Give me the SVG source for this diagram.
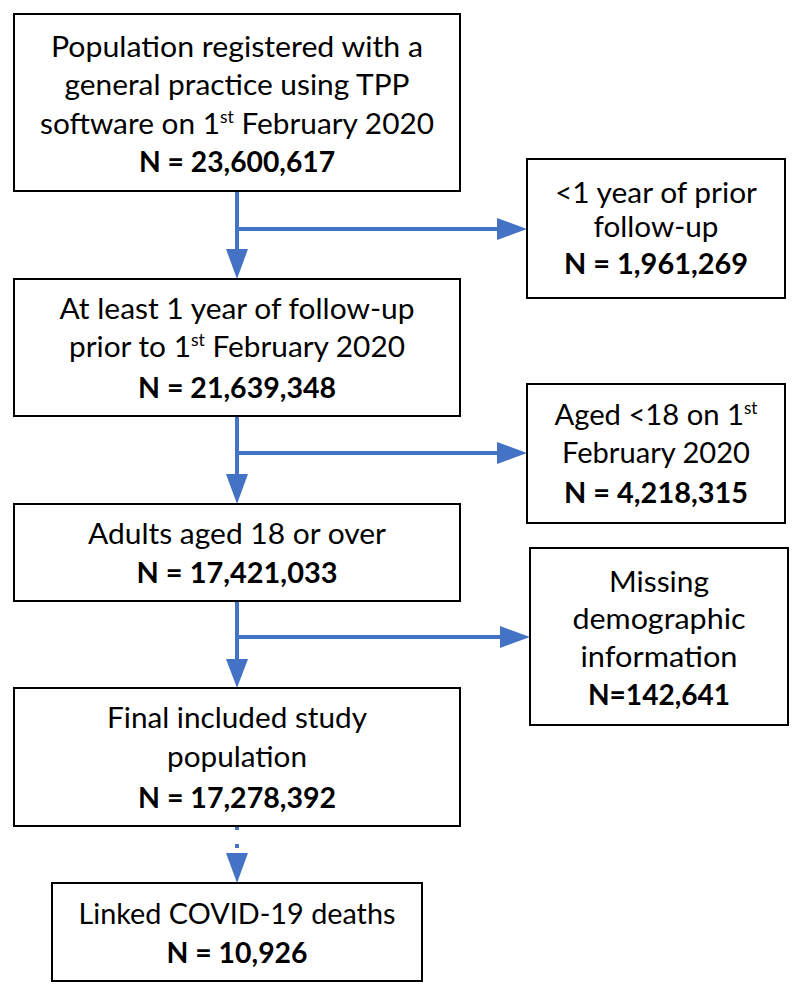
<svg xmlns="http://www.w3.org/2000/svg" width="800" height="996" viewBox="0 0 800 996">
<style>
.box{fill:#fff;stroke:#000;stroke-width:2}
text{font-family:Lato,"Open Sans","Liberation Sans",sans-serif;font-size:29px;fill:#000;text-anchor:middle}
.b{font-weight:bold}
.sup{font-size:17px}
.ln{stroke:#4472C4;stroke-width:4;fill:none}
.hd{fill:#4472C4}
</style>
<rect width="800" height="996" fill="#fff"/>
<g id="connectors">
<line class="ln" x1="237" y1="191" x2="237" y2="250"/>
<polygon class="hd" points="226,249 248,249 237,279"/>
<line class="ln" x1="237" y1="229" x2="498" y2="229"/>
<polygon class="hd" points="497,218 497,240 527,229"/>
<line class="ln" x1="237" y1="416" x2="237" y2="475"/>
<polygon class="hd" points="226,474 248,474 237,504"/>
<line class="ln" x1="237" y1="453" x2="498" y2="453"/>
<polygon class="hd" points="497,442 497,464 527,453"/>
<line class="ln" x1="237" y1="601" x2="237" y2="660"/>
<polygon class="hd" points="226,659 248,659 237,688"/>
<line class="ln" x1="237" y1="637" x2="501" y2="637"/>
<polygon class="hd" points="500,626 500,648 530,637"/>
<line class="ln" x1="237" y1="826" x2="237" y2="853" stroke-dasharray="4 14"/>
<polygon class="hd" points="226,853 248,853 237,883"/>
</g>
<g id="n1">
<rect class="box" x="14" y="14" width="446" height="177"/>
<text x="237" y="57" textLength="372" lengthAdjust="spacingAndGlyphs">Population registered with a</text>
<text x="237" y="95" textLength="345" lengthAdjust="spacingAndGlyphs">general practice using TPP</text>
<text x="237" y="134" textLength="394" lengthAdjust="spacingAndGlyphs">software on 1<tspan class="sup" dy="-11">st</tspan><tspan dy="11"> February 2020</tspan></text>
<text class="b" x="237" y="172" textLength="196" lengthAdjust="spacingAndGlyphs">N = 23,600,617</text>
</g>
<g id="n2">
<rect class="box" x="527" y="159" width="258" height="139"/>
<text x="656" y="203" textLength="202" lengthAdjust="spacingAndGlyphs">&lt;1 year of prior</text>
<text x="656" y="237" textLength="125" lengthAdjust="spacingAndGlyphs">follow-up</text>
<text class="b" x="656" y="274" textLength="184" lengthAdjust="spacingAndGlyphs">N = 1,961,269</text>
</g>
<g id="n3">
<rect class="box" x="14" y="279" width="446" height="137"/>
<text x="237" y="319" textLength="355" lengthAdjust="spacingAndGlyphs">At least 1 year of follow-up</text>
<text x="237" y="357" textLength="336" lengthAdjust="spacingAndGlyphs">prior to 1<tspan class="sup" dy="-11">st</tspan><tspan dy="11"> February 2020</tspan></text>
<text class="b" x="237" y="398" textLength="198" lengthAdjust="spacingAndGlyphs">N = 21,639,348</text>
</g>
<g id="n4">
<rect class="box" x="527" y="384" width="258" height="139"/>
<text x="656" y="425" textLength="203" lengthAdjust="spacingAndGlyphs">Aged &lt;18 on 1<tspan class="sup" dy="-11">st</tspan></text>
<text x="656" y="463" textLength="188" lengthAdjust="spacingAndGlyphs">February 2020</text>
<text class="b" x="656" y="503" textLength="184" lengthAdjust="spacingAndGlyphs">N = 4,218,315</text>
</g>
<g id="n5">
<rect class="box" x="14" y="504" width="446" height="97"/>
<text x="237" y="544" textLength="298" lengthAdjust="spacingAndGlyphs">Adults aged 18 or over</text>
<text class="b" x="237" y="583" textLength="201" lengthAdjust="spacingAndGlyphs">N = 17,421,033</text>
</g>
<g id="n6">
<rect class="box" x="530" y="548" width="258" height="177"/>
<text x="659" y="592" textLength="100" lengthAdjust="spacingAndGlyphs">Missing</text>
<text x="659" y="629" textLength="173" lengthAdjust="spacingAndGlyphs">demographic</text>
<text x="659" y="667" textLength="157" lengthAdjust="spacingAndGlyphs">information</text>
<text class="b" x="659" y="705" textLength="142" lengthAdjust="spacingAndGlyphs">N=142,641</text>
</g>
<g id="n7">
<rect class="box" x="14" y="688" width="446" height="138"/>
<text x="237" y="728" textLength="260" lengthAdjust="spacingAndGlyphs">Final included study</text>
<text x="237" y="767" textLength="140" lengthAdjust="spacingAndGlyphs">population</text>
<text class="b" x="237" y="808" textLength="198" lengthAdjust="spacingAndGlyphs">N = 17,278,392</text>
</g>
<g id="n8">
<rect class="box" x="52" y="883" width="370" height="98"/>
<text x="237" y="924" textLength="317" lengthAdjust="spacingAndGlyphs">Linked COVID-19 deaths</text>
<text class="b" x="237" y="963" textLength="141" lengthAdjust="spacingAndGlyphs">N = 10,926</text>
</g>
</svg>
